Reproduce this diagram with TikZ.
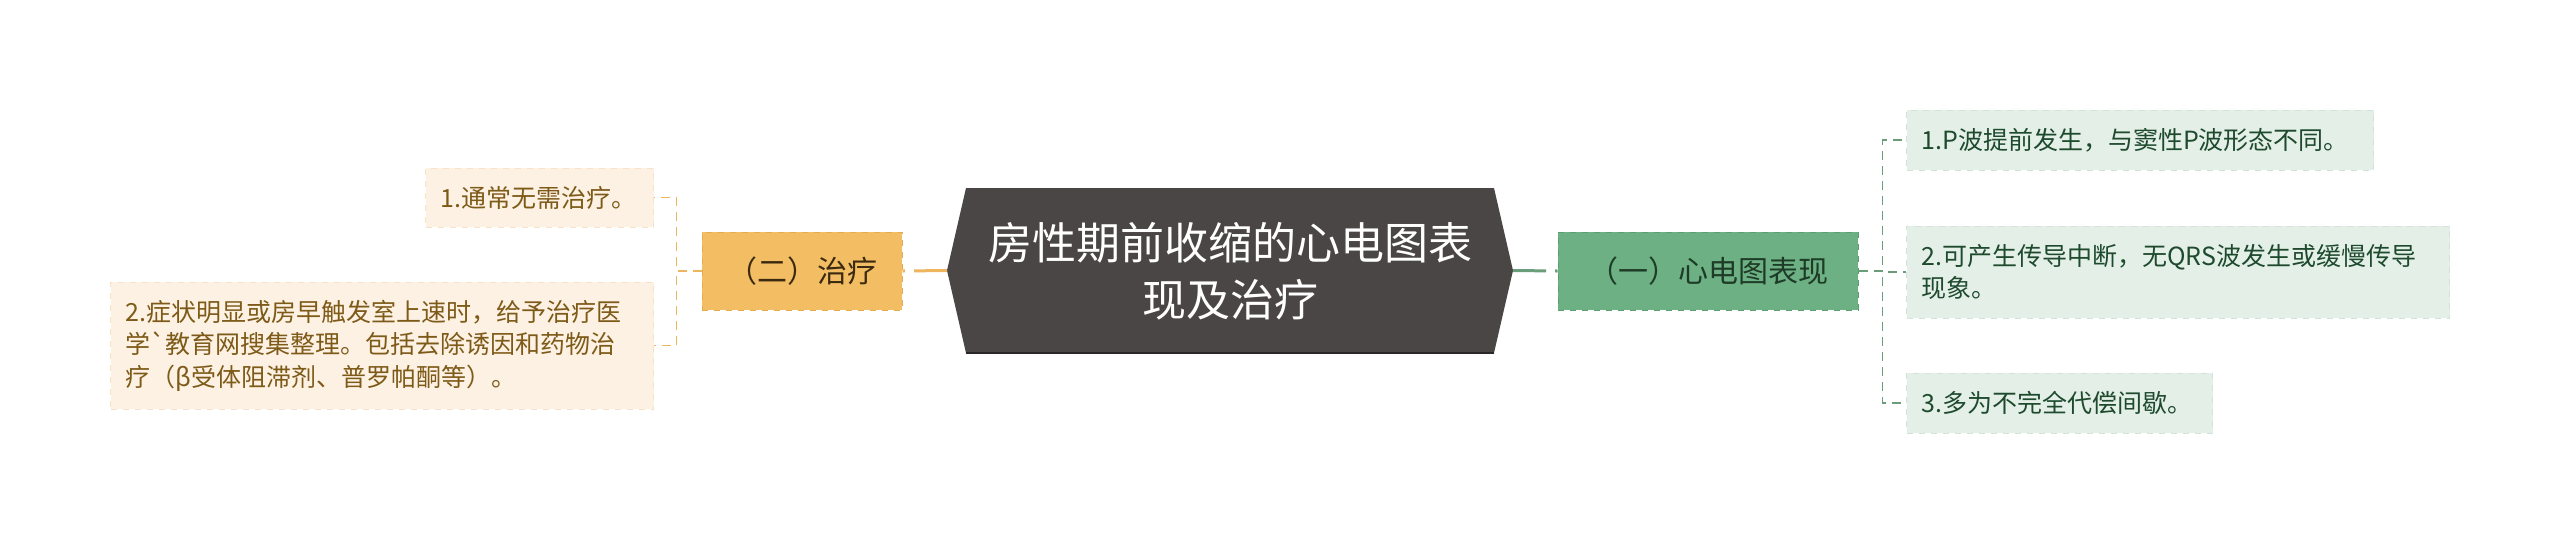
\documentclass[tikz,border=0pt]{standalone}
\usepackage{fontspec}
\newfontfamily\cjk{Noto Sans CJK SC}
\definecolor{rootfill}{RGB}{75,70,70}
\definecolor{rootline}{RGB}{43,39,39}
\definecolor{orangefill}{RGB}{242,189,99}
\definecolor{orangeedge}{RGB}{228,172,80}
\definecolor{orangetext}{RGB}{59,42,16}
\definecolor{orangeleaf}{RGB}{253,241,227}
\definecolor{orangeleafedge}{RGB}{246,226,200}
\definecolor{orangeleaftext}{RGB}{125,90,24}
\definecolor{orangeline}{RGB}{237,182,94}
\definecolor{greenfill}{RGB}{109,176,132}
\definecolor{greenedge}{RGB}{92,158,115}
\definecolor{greentext}{RGB}{29,59,39}
\definecolor{greenleaf}{RGB}{228,239,231}
\definecolor{greenleafedge}{RGB}{210,228,215}
\definecolor{greenleaftext}{RGB}{30,74,46}
\definecolor{greenline}{RGB}{106,158,123}

\begin{document}
\begin{tikzpicture}[x=0.5pt,y=-0.5pt,
  root node/.style={align=center,text=white,inner sep=0pt,
    font=\cjk\fontsize{22}{28.5}\selectfont},
  branch node/.style={rectangle,draw,dashed,line width=0.5pt,inner sep=0pt,
    minimum height=39pt,font=\cjk\fontsize{15}{18}\selectfont},
  leaf node/.style={rectangle,draw,dashed,line width=0.5pt,align=left,
    inner xsep=7.5pt,inner ysep=0pt,font=\cjk\fontsize{12.5}{16.25}\selectfont},
  orange leaf/.style={fill=orangeleaf,draw=orangeleafedge,text=orangeleaftext},
  green leaf/.style={fill=greenleaf,draw=greenleafedge,text=greenleaftext},
  thick link/.style={line width=1.5pt,dash pattern=on 16.5pt off 4.5pt},
  thin link/.style={line width=0.75pt,dash pattern=on 4.5pt off 3pt}]

  \useasboundingbox (0,0) rectangle (2560,543);

  % centre
  \coordinate (rootW) at (947,270.5);
  \coordinate (rootE) at (1513,270.5);
  \fill[rootfill] (966,188) -- (1494,188) -- (rootE) -- (1494,353)
    -- (966,353) -- (rootW) -- cycle;
  \draw[rootline,line width=1pt] (966,352.5) -- (1494,352.5);
  \node[root node] (root) at (1230,271) {房性期前收缩的心电图表\\现及治疗};

  % branches
  \node[branch node,fill=orangefill,draw=orangeedge,text=orangetext,
    minimum width=100pt] (zhiliao) at (802,271) {（二）治疗};
  \node[branch node,fill=greenfill,draw=greenedge,text=greentext,
    minimum width=150pt] (biaoxian) at (1708,271) {（一）心电图表现};

  % leaves
  \node[leaf node,orange leaf,text width=99pt,minimum height=29.5pt,
    anchor=east] (l1) at (654,197.5) {1.通常无需治疗。};
  \node[leaf node,orange leaf,text width=256.5pt,minimum height=63.5pt,
    anchor=east] (l2) at (654,345.5)
    {2.症状明显或房早触发室上速时，给予治疗医\\学`教育网搜集整理。包括去除诱因和药物治\\疗（β受体阻滞剂、普罗帕酮等）。};
  \node[leaf node,green leaf,text width=218.5pt,minimum height=30pt,
    anchor=west] (r1) at (1906,140) {1.P波提前发生，与窦性P波形态不同。};
  \node[leaf node,green leaf,text width=256.5pt,minimum height=46pt,
    anchor=west] (r2) at (1906,272) {2.可产生传导中断，无QRS波发生或缓慢传导\\现象。};
  \node[leaf node,green leaf,text width=138pt,minimum height=30pt,
    anchor=west] (r3) at (1906,403) {3.多为不完全代偿间歇。};

  % links
  \draw[thick link,orangeline] (rootW) -- (zhiliao.east);
  \draw[thick link,greenline] (rootE) -- (biaoxian.west);
  \foreach \leaf in {l1,l2}
    \draw[thin link,orangeline] (zhiliao.west) -- ++(-25,0) |- (\leaf.east);
  \foreach \leaf in {r1,r2,r3}
    \draw[thin link,greenline] (biaoxian.east) -- ++(24,0) |- (\leaf.west);
\end{tikzpicture}
\end{document}
